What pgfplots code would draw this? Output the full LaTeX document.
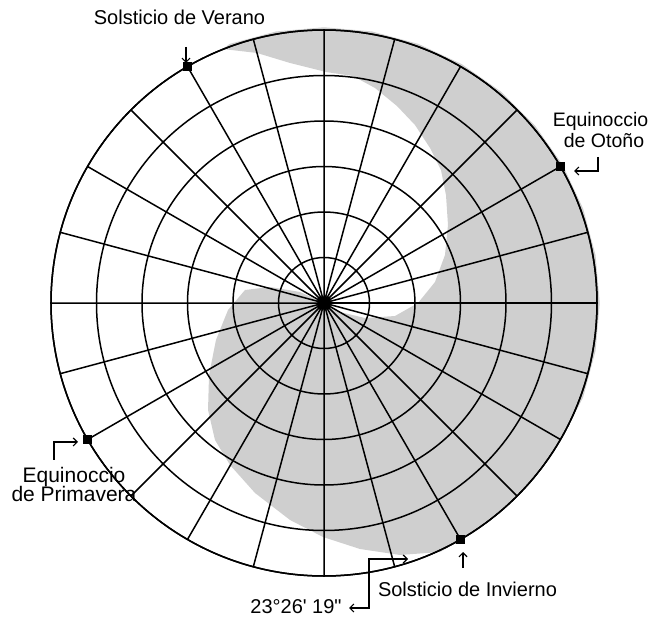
\documentclass[border=0pt]{standalone}
\usepackage{pgfplots}
\pgfplotsset{compat=1.18}
\usepgfplotslibrary{polar}
\usetikzlibrary{arrows.meta}
\usepackage{fontspec}
\setmainfont{Liberation Sans}
\begin{document}
\begin{tikzpicture}
\begin{polaraxis}[
  width=546pt, height=546pt, scale only axis,
  ymin=0, ymax=6,
  xtick={0,15,...,345}, ytick={1,2,3,4,5,6},
  xticklabels={}, yticklabels={},
  grid=major,
  major grid style={black, line width=1.5pt},
  axis line style={black, line width=1.5pt},
  major tick length=0pt,
  axis on top,
  clip=false,
]
\addplot[data cs=cart, fill=gray!38, draw=none] coordinates {
(-2.220,5.582)
(-2.073,5.695) (-1.052,5.968) (0,6.06) (1.052,5.968) (2.073,5.695) (3.030,5.248)
(3.895,4.642) (4.642,3.895) (5.248,3.030) (5.695,2.073) (5.968,1.052) (6.06,0)
(5.968,-1.052) (5.695,-2.073) (5.213,-3.01) (4.612,-3.870) (3.870,-4.612) (3.01,-5.213)
(2.549,-5.473)
(1.670,-5.538) (0.791,-5.407) (-0.022,-5.143) (-0.747,-4.769) (-1.516,-4.176)
(-2.066,-3.560) (-2.396,-3.011) (-2.549,-2.352) (-2.527,-1.582) (-2.374,-0.813)
(-2.110,-0.154) (-1.736,0.286) (-1.187,0.352) (-0.527,0.242) (0,0) (0.352,-0.198)
(0.901,-0.330) (1.560,-0.286) (2.066,0) (2.440,0.462) (2.659,1.055) (2.725,1.714)
(2.681,2.374) (2.571,2.923) (2.330,3.407) (2.0,3.912) (1.604,4.330) (1.121,4.725)
(0.637,4.989) (0.044,5.077) (-0.747,5.275) (-1.473,5.495)
};
\addplot[only marks, mark=square*, mark size=4pt, black] coordinates {(30,6) (120,6) (210,6) (300,6)};
\coordinate (O) at (axis cs:0,0);
\end{polaraxis}
\coordinate (TL) at ([shift={(-324pt,303pt)}]O);
\begin{scope}[shift={(TL)}, x=1pt, y=-1pt, line width=1.2pt,
  tip/.style={-{Straight Barb[length=4pt,width=8pt]}}]
  \path (0,0) rectangle (653,616);
  \node[anchor=base, inner sep=0pt, font=\fontsize{20}{22}\selectfont] at (179.5,25) {Solsticio de Verano};
  \draw[tip] (186,47) -- (186,63);
  \node[anchor=base, inner sep=0pt, font=\fontsize{19.5}{22}\selectfont] at (600.5,127) {Equinoccio};
  \node[anchor=base, inner sep=0pt, font=\fontsize{19.5}{22}\selectfont] at (604,148) {de Otoño};
  \draw[tip] (598,157) -- (598,171) -- (574,171);
  \node[anchor=base, inner sep=0pt, font=\fontsize{21}{22}\selectfont] at (74,482) {Equinoccio};
  \node[anchor=base, inner sep=0pt, font=\fontsize{21}{22}\selectfont] at (74,501) {de Primavera};
  \draw[tip] (54,460) -- (54,442) -- (78,442);
  \node[anchor=base, inner sep=0pt, font=\fontsize{20}{22}\selectfont] at (467.5,596) {Solsticio de Invierno};
  \draw[tip] (463,568) -- (463,552);
  \node[anchor=base, inner sep=0pt, font=\fontsize{20}{22}\selectfont] at (296,613) {23°26\textquotesingle\ 19\textquotedbl};
  \draw[{Straight Barb[length=4pt,width=8pt]}-{Straight Barb[length=4pt,width=8pt]}] (349,608) -- (369,608) -- (369,559) -- (408,559);
\end{scope}
\end{tikzpicture}
\end{document}
